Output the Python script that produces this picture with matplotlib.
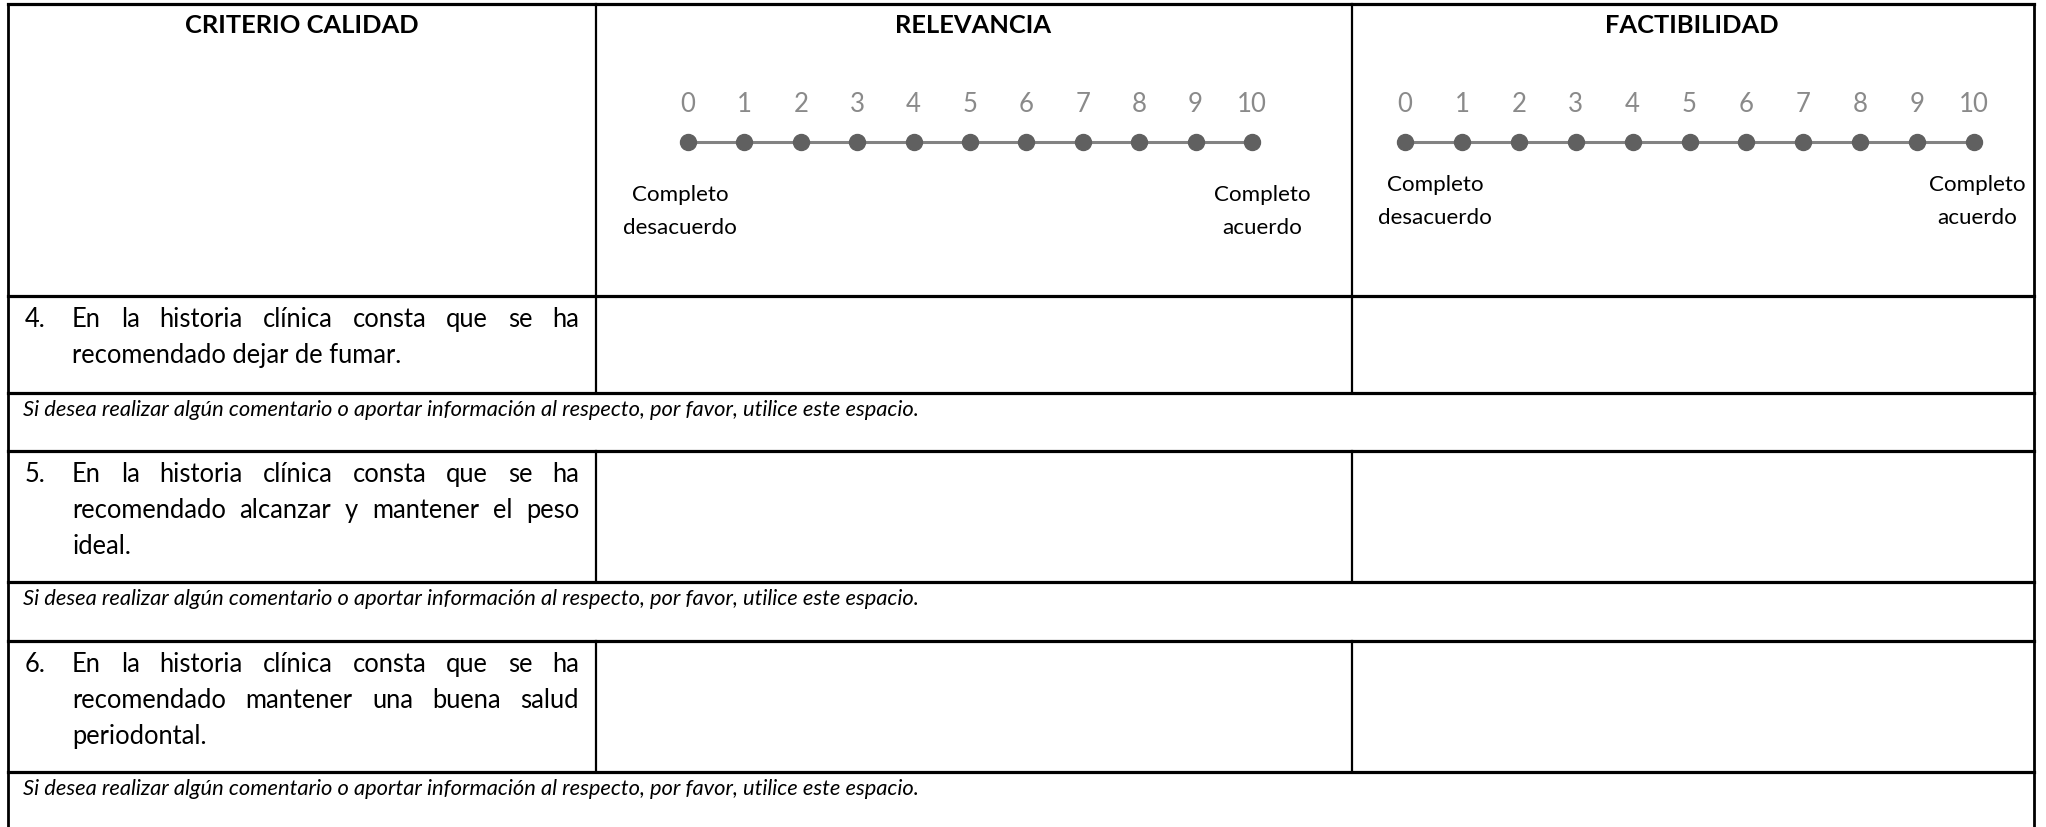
import matplotlib
matplotlib.use('Agg')
import matplotlib.pyplot as plt

plt.rcParams['font.family'] = ['Lato', 'DejaVu Sans']

# datos del formulario
columnas = ['CRITERIO CALIDAD', 'RELEVANCIA', 'FACTIBILIDAD']
escala = list(range(0, 11))
extremo_bajo = ['Completo', 'desacuerdo']
extremo_alto = ['Completo', 'acuerdo']
numeros = ['4.', '5.', '6.']
criterios = [
    ['En la historia clínica consta que se ha', 'recomendado dejar de fumar.'],
    ['En la historia clínica consta que se ha', 'recomendado alcanzar y mantener el peso', 'ideal.'],
    ['En la historia clínica consta que se ha', 'recomendado mantener una buena salud', 'periodontal.'],
]
comentario = 'Si desea realizar algún comentario o aportar información al respecto, por favor, utilice este espacio.'

W, H = 2046, 828
fig = plt.figure(figsize=(W / 100, H / 100), dpi=100)
ax = fig.add_axes([0, 0, 1, 1])
ax.set_xlim(0, W)
ax.set_ylim(H, 0)
ax.axis('off')
R = fig.canvas.get_renderer()

# marco de la tabla (pixeles)
xl, xr = 8, 2034
xc = [596, 1352]
y_top, y_head = 5, 297
filas = [(297, 394), (452, 583), (642, 773)]
coms = [394, 583, 773]

for y in [y_top, y_head, 394, 452, 583, 642, 773]:
    ax.plot([xl, xr], [y, y], color='black', lw=2.3, solid_capstyle='projecting')
for x in [xl, xr]:
    ax.plot([x, x], [y_top, H + 5], color='black', lw=2.0, solid_capstyle='projecting')
for x in xc:
    for a, b in [(y_top, 394), (452, 583), (642, 773)]:
        ax.plot([x, x], [a, b], color='black', lw=1.6)


def ajustar(texto, px, **kw):
    t = ax.text(0, 0, texto, fontsize=20, **kw)
    s = 20 * px / t.get_window_extent(R).width
    t.remove()
    return s


f_head = ajustar('RELEVANCIA', 156, fontweight='bold')
f_lab = ajustar('desacuerdo', 114)
f_fila = ajustar('recomendado dejar de fumar.', 330)
f_com = ajustar(comentario, 894, style='italic')

# encabezados
for txt, cx in zip(columnas, [302, 973, 1692]):
    ax.text(cx, 33, txt, ha='center', va='baseline', fontsize=f_head, fontweight='bold')


def regla(x0, x1, y):
    a = fig.add_axes([x0 / W, 1 - (y + 10) / H, (x1 - x0) / W, 20 / H])
    a.set_xlim(0, 10)
    a.set_ylim(-1, 1)
    a.axis('off')
    a.plot(escala, [0] * len(escala), color='#828282', lw=2.2, marker='o', ms=11.5,
           mfc='#606060', mec='#606060', clip_on=False)
    for v in escala:
        a.annotate(str(v), (v, 0), xytext=(0, 31), textcoords='offset pixels',
                   ha='center', va='baseline', fontsize=18.5, color='#8a8a8a')


regla(688, 1252, 143)
regla(1405, 1974, 143)

# extremos de la escala
for cx, y0, lineas in [(680, 195, extremo_bajo), (1262, 195, extremo_alto),
                       (1435, 185, extremo_bajo), (1977, 185, extremo_alto)]:
    for i, ln in enumerate(lineas):
        ax.text(cx, y0 + 33 * i, ln, ha='center', va='center', fontsize=f_lab)


# criterios con texto justificado
def linea(x0, x1, y, texto, justificar):
    if not justificar:
        ax.text(x0, y, texto, ha='left', va='baseline', fontsize=f_fila)
        return
    palabras = texto.split()
    ts = [ax.text(0, y, p, ha='left', va='baseline', fontsize=f_fila) for p in palabras]
    anchos = [t.get_window_extent(R).width for t in ts]
    hueco = (x1 - x0 - sum(anchos)) / (len(palabras) - 1)
    x = x0
    for t, w in zip(ts, anchos):
        t.set_x(x)
        x += w + hueco


for num, lineas, (ya, yb) in zip(numeros, criterios, filas):
    ax.text(25, ya + 30, num, ha='left', va='baseline', fontsize=f_fila)
    for i, ln in enumerate(lineas):
        linea(72, 579, ya + 30 + 36 * i, ln, i < len(lineas) - 1)

for y in coms:
    ax.text(23, y + 16, comentario, ha='left', va='center', fontsize=f_com, style='italic')

fig.savefig('out.png', dpi=100, facecolor='white')
